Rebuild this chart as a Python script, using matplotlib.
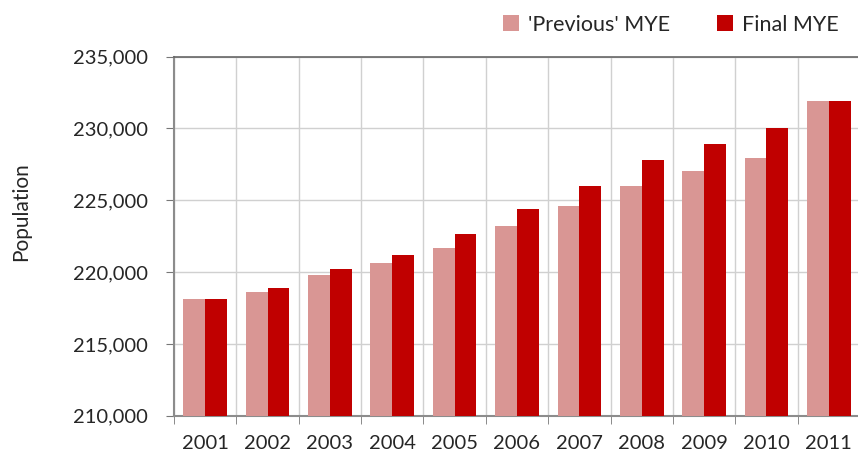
import numpy as np
import matplotlib.pyplot as plt
from matplotlib.ticker import FuncFormatter, MultipleLocator

years = ['2001', '2002', '2003', '2004', '2005', '2006',
         '2007', '2008', '2009', '2010', '2011']
previous_mye = [218100, 218590, 219780, 220610, 221700, 223210,
                224580, 226020, 227020, 227950, 231890]
final_mye = [218100, 218870, 220220, 221190, 222650, 224390,
             226020, 227790, 228940, 230030, 231890]

plt.rcParams['font.family'] = ['Lato', 'DejaVu Sans']

fig = plt.figure(figsize=(8.58, 4.63), dpi=100)
ax = fig.add_axes([174 / 858, 1 - 415.7 / 463, 686 / 858, (415.7 - 56.7) / 463])

x = np.arange(len(years))
w = 0.35
ax.bar(x - w / 2, previous_mye, w, color='#D99694', label="'Previous' MYE", zorder=3)
ax.bar(x + w / 2, final_mye, w, color='#C00000', label='Final MYE', zorder=3)

ax.set_xlim(-0.5, len(years) - 0.5)
ax.set_ylim(210000, 235000)
ax.yaxis.set_major_locator(MultipleLocator(5000))
ax.yaxis.set_major_formatter(FuncFormatter(lambda v, p: f'{int(v):,}'))

# year labels centred, ticks on the category boundaries
ax.set_xticks(x)
ax.set_xticklabels(years)
ax.set_xticks(np.arange(-0.5, len(years)), minor=True)
ax.tick_params(axis='x', which='major', length=0, pad=14, labelsize=14.5, labelcolor='#262626')
ax.tick_params(axis='x', which='minor', length=6, color='#777777', direction='out')
ax.tick_params(axis='y', length=6, color='#777777', labelsize=14.5, labelcolor='#262626', pad=13)

ax.grid(True, which='minor', axis='x', color='#D0D0D0', lw=1, zorder=0)
ax.grid(True, which='major', axis='y', color='#D0D0D0', lw=1, zorder=0)

for side in ['left', 'bottom']:
    ax.spines[side].set_color('#8C8C8C')
    ax.spines[side].set_linewidth(1.5)
ax.spines['top'].set_color('#666666')
ax.spines['top'].set_linewidth(1.2)
ax.spines['right'].set_visible(False)

ax.set_ylabel('Population', fontsize=15, color='#262626')
ax.yaxis.label.set_verticalalignment('center')
ax.yaxis.set_label_coords(21 / 858, (463 - 212) / 463, transform=fig.transFigure)

fig.legend(loc='upper right', bbox_to_anchor=(1.0, 1.01), ncol=2, frameon=False,
           fontsize=15.5, handlelength=0.75, handleheight=0.75, columnspacing=2.2,
           handletextpad=0.4, labelcolor='#262626')

fig.savefig('out.png', dpi=100)
